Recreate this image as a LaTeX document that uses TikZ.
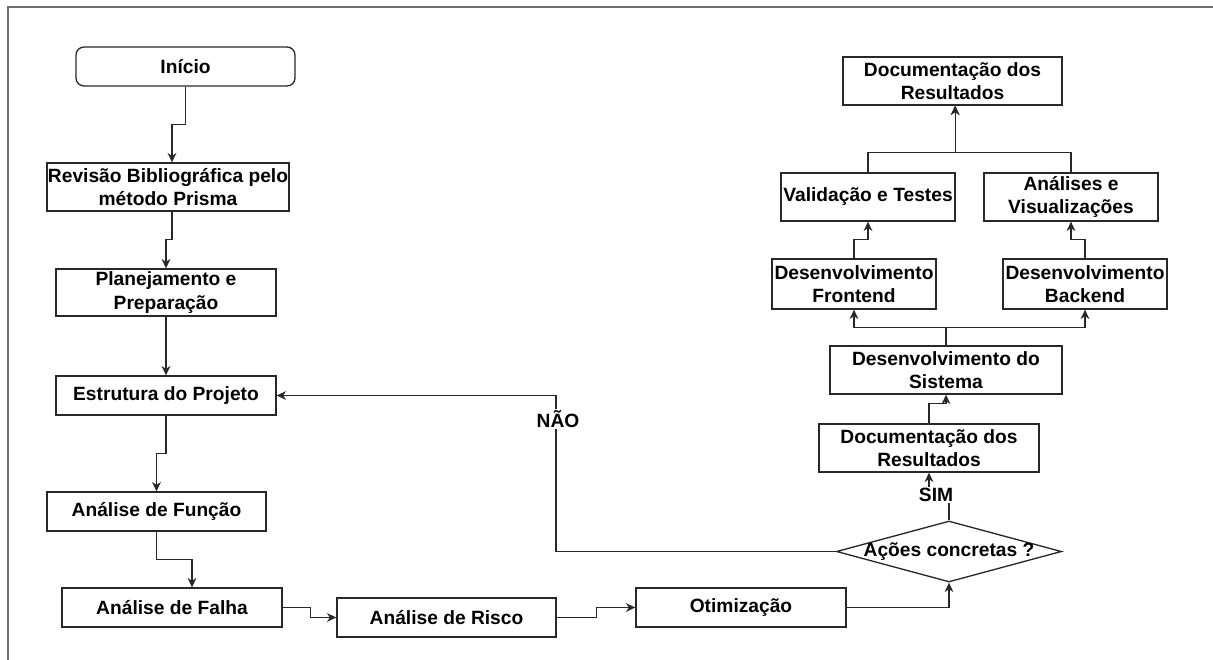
\documentclass[tikz,border=0pt]{standalone}
\usepackage{fontspec}
\setmainfont{Liberation Sans}
\usetikzlibrary{arrows.meta,shapes.geometric}
\definecolor{frame}{RGB}{110,110,110}
\definecolor{edge}{RGB}{40,40,40}
\tikzset{
  box/.style={draw=edge, line width=1pt, fill=white, inner sep=0pt, align=center,
    font=\bfseries\fontsize{14.4}{17.3}\selectfont, text=black},
  conn/.style={draw=edge, line width=1pt, -{Stealth[length=7pt,width=6.5pt,inset=2.2pt]}},
  lbl/.style={fill=white, inner sep=1pt, font=\bfseries\fontsize{14.4}{17.3}\selectfont, text=black}
}
\begin{document}
\begin{tikzpicture}[x=0.75pt,y=-0.75pt]
\useasboundingbox (0,0) rectangle (1213,660);
\fill[white] (0,0) rectangle (1213,660);
\draw[frame, line width=1pt] (8,660) -- (8,7) -- (1213,7);

% left column
\node[box, rounded corners=6pt, minimum width=164.25pt, minimum height=29.25pt] (inicio) at (185.5,66.5) {Início};
\node[box, minimum width=181.5pt, minimum height=36pt] (revisao) at (168,187) {Revisão Bibliográfica pelo\\método Prisma};
\node[box, minimum width=165pt, minimum height=35.25pt] (plan) at (166,292.5) {Planejamento e\\Preparação};
\node[box, minimum width=165pt, minimum height=29.25pt] (estr) at (166,395.5) {Estrutura do Projeto};
\node[box, minimum width=164.25pt, minimum height=29.25pt] (func) at (156.5,511.5) {Análise de Função};
\node[box, minimum width=165pt, minimum height=29.25pt] (falha) at (172,607.5) {Análise de Falha};
\node[box, minimum width=164.25pt, minimum height=29.25pt] (risco) at (446.5,617.5) {Análise de Risco};
\node[box, minimum width=157.5pt, minimum height=29.25pt] (otim) at (741,607.5) {Otimização};

% decision
\node[diamond, draw=edge, line width=1pt, fill=white, inner sep=0pt, minimum width=168.75pt, minimum height=45.75pt,
  label={[font=\bfseries\fontsize{14.4}{17.3}\selectfont, text=black]center:Ações concretas ?}] (dec) at (949,551.5) {};

% right column
\node[box, minimum width=165pt, minimum height=36pt] (doc2) at (929,448) {Documentação dos\\Resultados};
\node[box, minimum width=174pt, minimum height=36pt] (sist) at (946,370) {Desenvolvimento do\\Sistema};
\node[box, minimum width=123pt, minimum height=37.5pt] (front) at (854,284) {Desenvolvimento\\Frontend};
\node[box, minimum width=123pt, minimum height=37.5pt] (back) at (1085,284) {Desenvolvimento\\Backend};
\node[box, minimum width=130.5pt, minimum height=36pt] (valid) at (868,197) {Validação e Testes};
\node[box, minimum width=130.5pt, minimum height=36pt] (anal) at (1071,197) {Análises e\\Visualizações};
\node[box, minimum width=164.25pt, minimum height=36pt] (doc1) at (952.5,81) {Documentação dos\\Resultados};

% connectors
\draw[conn] (inicio.south) -- ++(0,38) -| ([xshift=3pt]revisao.north);
\draw[conn] ([xshift=3pt]revisao.south) -- ++(0,28) -| (plan.north);
\draw[conn] (plan.south) -- (estr.north);
\draw[conn] (estr.south) -- ++(0,38) -| (func.north);
\draw[conn] (func.south) -- ++(0,28) -| ([xshift=15pt]falha.north);
\draw[conn] (falha.east) -- ++(28,0) |- (risco.west);
\draw[conn] (risco.east) -- ++(40,0) |- (otim.west);
\draw[conn] (otim.east) -| (dec.south);

\coordinate (naoc) at (556,551.5);
\draw[conn] (dec.west) -- (naoc) |- (estr.east);
\node[lbl] (nao) at (558,419) {NÃO};

\draw[conn] (dec.north) -- ++(0,-26) -| (doc2.south);
\node[lbl] (sim) at (936,495) {SIM};

\draw[conn] (doc2.north) -- ++(0,-20) -| (sist.south);
\draw[conn] (sist.north) -- ++(0,-18) -| (front.south);
\draw[conn] (sist.north) -- ++(0,-18) -| (back.south);
\draw[conn] (front.north) -- ++(0,-19) -| (valid.south);
\draw[conn] (back.north) -- ++(0,-19) -| (anal.south);
\draw[conn] (valid.north) -- ++(0,-20) -| ([xshift=2pt]doc1.south);
\draw[conn] (anal.north) -- ++(0,-20) -| ([xshift=2pt]doc1.south);
\end{tikzpicture}
\end{document}
